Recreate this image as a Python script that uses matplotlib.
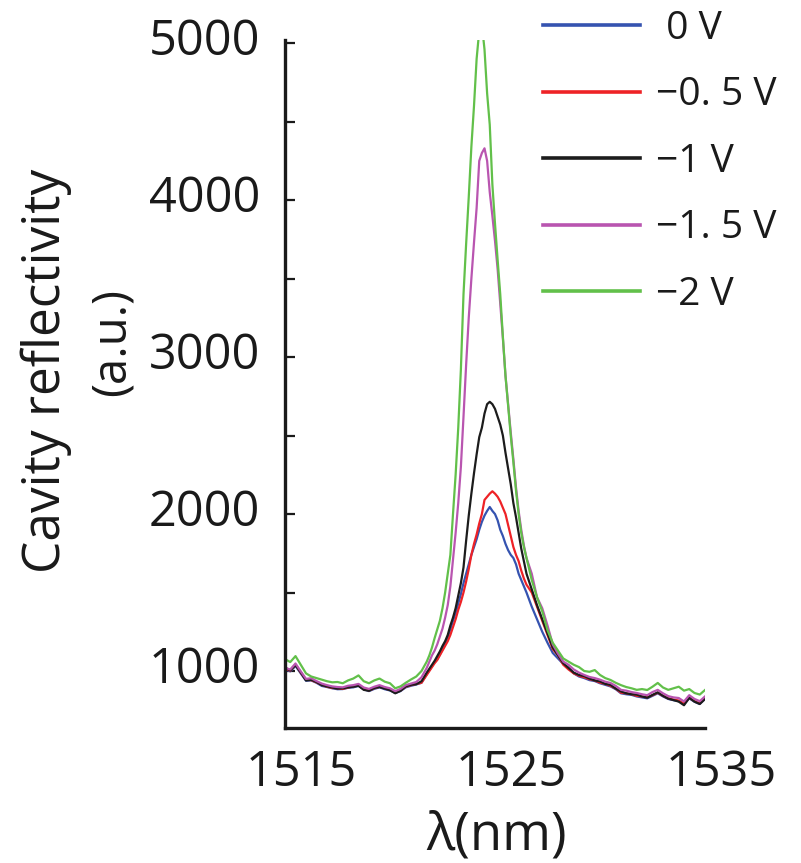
import matplotlib
matplotlib.use("Agg")
import matplotlib.pyplot as plt
from matplotlib.ticker import MultipleLocator
from matplotlib.transforms import ScaledTranslation

plt.rcParams["font.family"] = ["Open Sans", "DejaVu Sans"]

# wavelength samples (nm): 0.25 nm off-peak, 0.125 nm across the resonance
wavelength = [
    1515.00, 1515.25, 1515.50, 1515.75, 1516.00, 1516.25, 1516.50, 1516.75, 1517.00,
    1517.25, 1517.50, 1517.75, 1518.00, 1518.25, 1518.50, 1518.75, 1519.00, 1519.25,
    1519.50, 1519.75, 1520.00, 1520.25, 1520.50, 1520.75, 1521.00, 1521.25, 1521.50,
    1521.75, 1521.875, 1522.00, 1522.125, 1522.25, 1522.375, 1522.50, 1522.625,
    1522.75, 1522.875, 1523.00, 1523.125, 1523.25, 1523.375, 1523.50, 1523.625,
    1523.75, 1523.875, 1524.00, 1524.125, 1524.25, 1524.375, 1524.50, 1524.625,
    1524.75, 1524.875, 1525.00, 1525.125, 1525.25, 1525.375, 1525.50, 1525.625,
    1525.75, 1525.875, 1526.00, 1526.125, 1526.25, 1526.375, 1526.50,
    1526.75, 1527.00, 1527.25, 1527.50, 1527.75, 1528.00, 1528.25, 1528.50, 1528.75,
    1529.00, 1529.25, 1529.50, 1529.75, 1530.00, 1530.25, 1530.50, 1530.75, 1531.00,
    1531.25, 1531.50, 1531.75, 1532.00, 1532.25, 1532.50, 1532.75, 1533.00, 1533.25,
    1533.50, 1533.75, 1534.00, 1534.25, 1534.50, 1534.75, 1535.00,
]

refl_0v = [
    1010, 998, 1032, 985, 938, 940, 925, 905, 898, 890, 884, 885, 893, 896, 905, 884,
    872, 886, 896, 884, 876, 860, 872, 896, 906, 914, 925,
    980, 1005, 1030, 1055, 1075, 1105, 1140, 1175, 1215, 1265, 1320, 1370, 1430, 1490,
    1560, 1620, 1680, 1740, 1790, 1840, 1900, 1950, 1990, 2020, 2045, 2020, 2000, 1960,
    1900, 1860, 1810, 1770, 1740, 1720, 1680, 1620, 1580, 1540, 1500,
    1410, 1330, 1250, 1180, 1115, 1080, 1045, 1020, 985, 965,
    955, 942, 936, 922, 912, 902, 884, 858, 852, 848, 838, 832, 826, 842, 858, 838,
    822, 814, 808, 788, 826, 804, 790, 822,
]
refl_05v = [
    1015, 1002, 1040, 990, 944, 942, 928, 912, 900, 892, 890, 886, 895, 902, 908, 886,
    876, 890, 900, 890, 880, 865, 876, 900, 910, 918, 925,
    975, 1000, 1025, 1050, 1070, 1100, 1130, 1160, 1190, 1230, 1280, 1330, 1390, 1440,
    1500, 1570, 1650, 1740, 1810, 1870, 1940, 2000, 2090, 2110, 2130, 2145, 2130, 2110,
    2080, 2040, 2000, 1930, 1860, 1790, 1740, 1700, 1640, 1590, 1550,
    1500, 1410, 1320, 1230, 1140, 1100, 1040, 1010, 985, 970,
    960, 948, 940, 926, 918, 906, 888, 862, 858, 852, 842, 838, 832, 846, 862, 842,
    826, 818, 812, 792, 830, 808, 794, 826,
]
refl_1v = [
    1022, 1004, 1038, 992, 940, 944, 930, 910, 902, 895, 888, 890, 896, 900, 906, 880,
    874, 892, 898, 888, 878, 858, 874, 902, 912, 916, 935,
    990, 1015, 1040, 1065, 1095, 1125, 1160, 1190, 1230, 1290, 1340, 1400, 1480, 1560,
    1660, 1830, 1990, 2130, 2260, 2380, 2490, 2550, 2640, 2700, 2715, 2700, 2670, 2620,
    2570, 2500, 2390, 2290, 2190, 2070, 1980, 1880, 1780, 1700, 1620,
    1520, 1420, 1330, 1240, 1150, 1100, 1050, 1020, 990, 975,
    968, 952, 940, 934, 918, 912, 888, 870, 858, 852, 850, 838, 830, 848, 864, 842,
    824, 815, 805, 782, 830, 805, 790, 822,
]
refl_15v = [
    1020, 1010, 1048, 998, 950, 954, 936, 920, 910, 902, 898, 896, 906, 910, 918, 895,
    886, 900, 910, 898, 890, 872, 886, 910, 920, 930, 960,
    1020, 1060, 1100, 1130, 1170, 1220, 1270, 1340, 1420, 1540, 1710, 1880, 2070, 2300,
    2620, 2950, 3250, 3500, 3730, 3950, 4250, 4300, 4330, 4250, 4050, 3900, 3740, 3560,
    3340, 3120, 2880, 2700, 2520, 2350, 2170, 2020, 1900, 1800, 1720,
    1620, 1470, 1400, 1290, 1170, 1110, 1060, 1040, 1010, 990,
    975, 962, 955, 945, 932, 924, 905, 880, 875, 866, 860, 852, 846, 866, 880, 858,
    840, 832, 828, 806, 846, 822, 808, 838,
]
refl_2v = [
    1076, 1057, 1095, 1040, 985, 965, 955, 945, 935, 928, 930, 922, 940, 952, 972, 935,
    922, 940, 952, 932, 922, 890, 902, 925, 946, 965, 1000,
    1060, 1100, 1150, 1210, 1265, 1320, 1400, 1500, 1620, 1740, 2000, 2250, 2550, 2920,
    3400, 3720, 4020, 4340, 4600, 4900, 5080, 5120, 4960, 4680, 4480, 4100, 3850, 3620,
    3400, 3130, 2880, 2690, 2500, 2330, 2150, 2000, 1880, 1790, 1720,
    1580, 1470, 1380, 1260, 1180, 1130, 1080, 1060, 1040, 1025,
    1000, 995, 1006, 975, 955, 943, 925, 910, 898, 890, 880, 885, 879, 900, 924, 895,
    880, 890, 900, 875, 885, 860, 850, 879,
]

labels = [" 0 V", "\u22120. 5 V", "\u22121 V", "\u22121. 5 V", "\u22122 V"]
colors = ["#3553b0", "#ee2226", "#1c1c1c", "#b955b0", "#62c04a"]
series = [refl_0v, refl_05v, refl_1v, refl_15v, refl_2v]

INK = "#1a1a1a"

fig = plt.figure(figsize=(8.01, 8.63), dpi=100)
ax = fig.add_axes([285 / 801, 135 / 863, 420 / 801, 688 / 863])

for vals, lab, col in zip(series, labels, colors):
    ax.plot(wavelength, vals, color=col, lw=1.6, label=lab)

ax.set_xlim(1515, 1535)
ax.set_ylim(637, 5020)
ax.set_xticks([1515, 1525, 1535])
ax.yaxis.set_major_locator(MultipleLocator(1000))
ax.yaxis.set_minor_locator(MultipleLocator(500))

for side in ("top", "right"):
    ax.spines[side].set_visible(False)
for side in ("left", "bottom"):
    ax.spines[side].set_linewidth(2.4)
    ax.spines[side].set_color(INK)

ax.tick_params(axis="y", which="both", direction="in", length=7, width=1.6,
               labelsize=35, pad=18, colors=INK)
ax.tick_params(axis="x", length=0, labelsize=35, pad=15, colors=INK)

# tick labels in the source sit a little off their ticks
for t in ax.get_yticklabels():
    t.set_transform(t.get_transform() + ScaledTranslation(0, 7 / 100, fig.dpi_scale_trans))
for t in ax.get_xticklabels():
    t.set_transform(t.get_transform() + ScaledTranslation(16 / 100, 0, fig.dpi_scale_trans))

fig.text(497 / 801, 1 - 836 / 863, "\u03bb(nm)", ha="center", va="center",
         fontsize=38, color=INK)
fig.text(46 / 801, 1 - 371 / 863, "Cavity reflectivity", rotation=90,
         ha="center", va="center", fontsize=37, color=INK)
fig.text(112 / 801, 1 - 342 / 863, "(a.u.)", rotation=90,
         ha="center", va="center", fontsize=34, color=INK)

leg = ax.legend(loc="upper left", bbox_to_anchor=(543 / 801, 1 - 10 / 863),
                bbox_transform=fig.transFigure, frameon=False, fontsize=28,
                handlelength=2.5, handletextpad=0.4, labelspacing=0.73,
                borderpad=0, borderaxespad=0)
for h in leg.get_lines():
    h.set_linewidth(2.6)
for t in leg.get_texts():
    t.set_color(INK)

fig.savefig("out.png", dpi=100)
